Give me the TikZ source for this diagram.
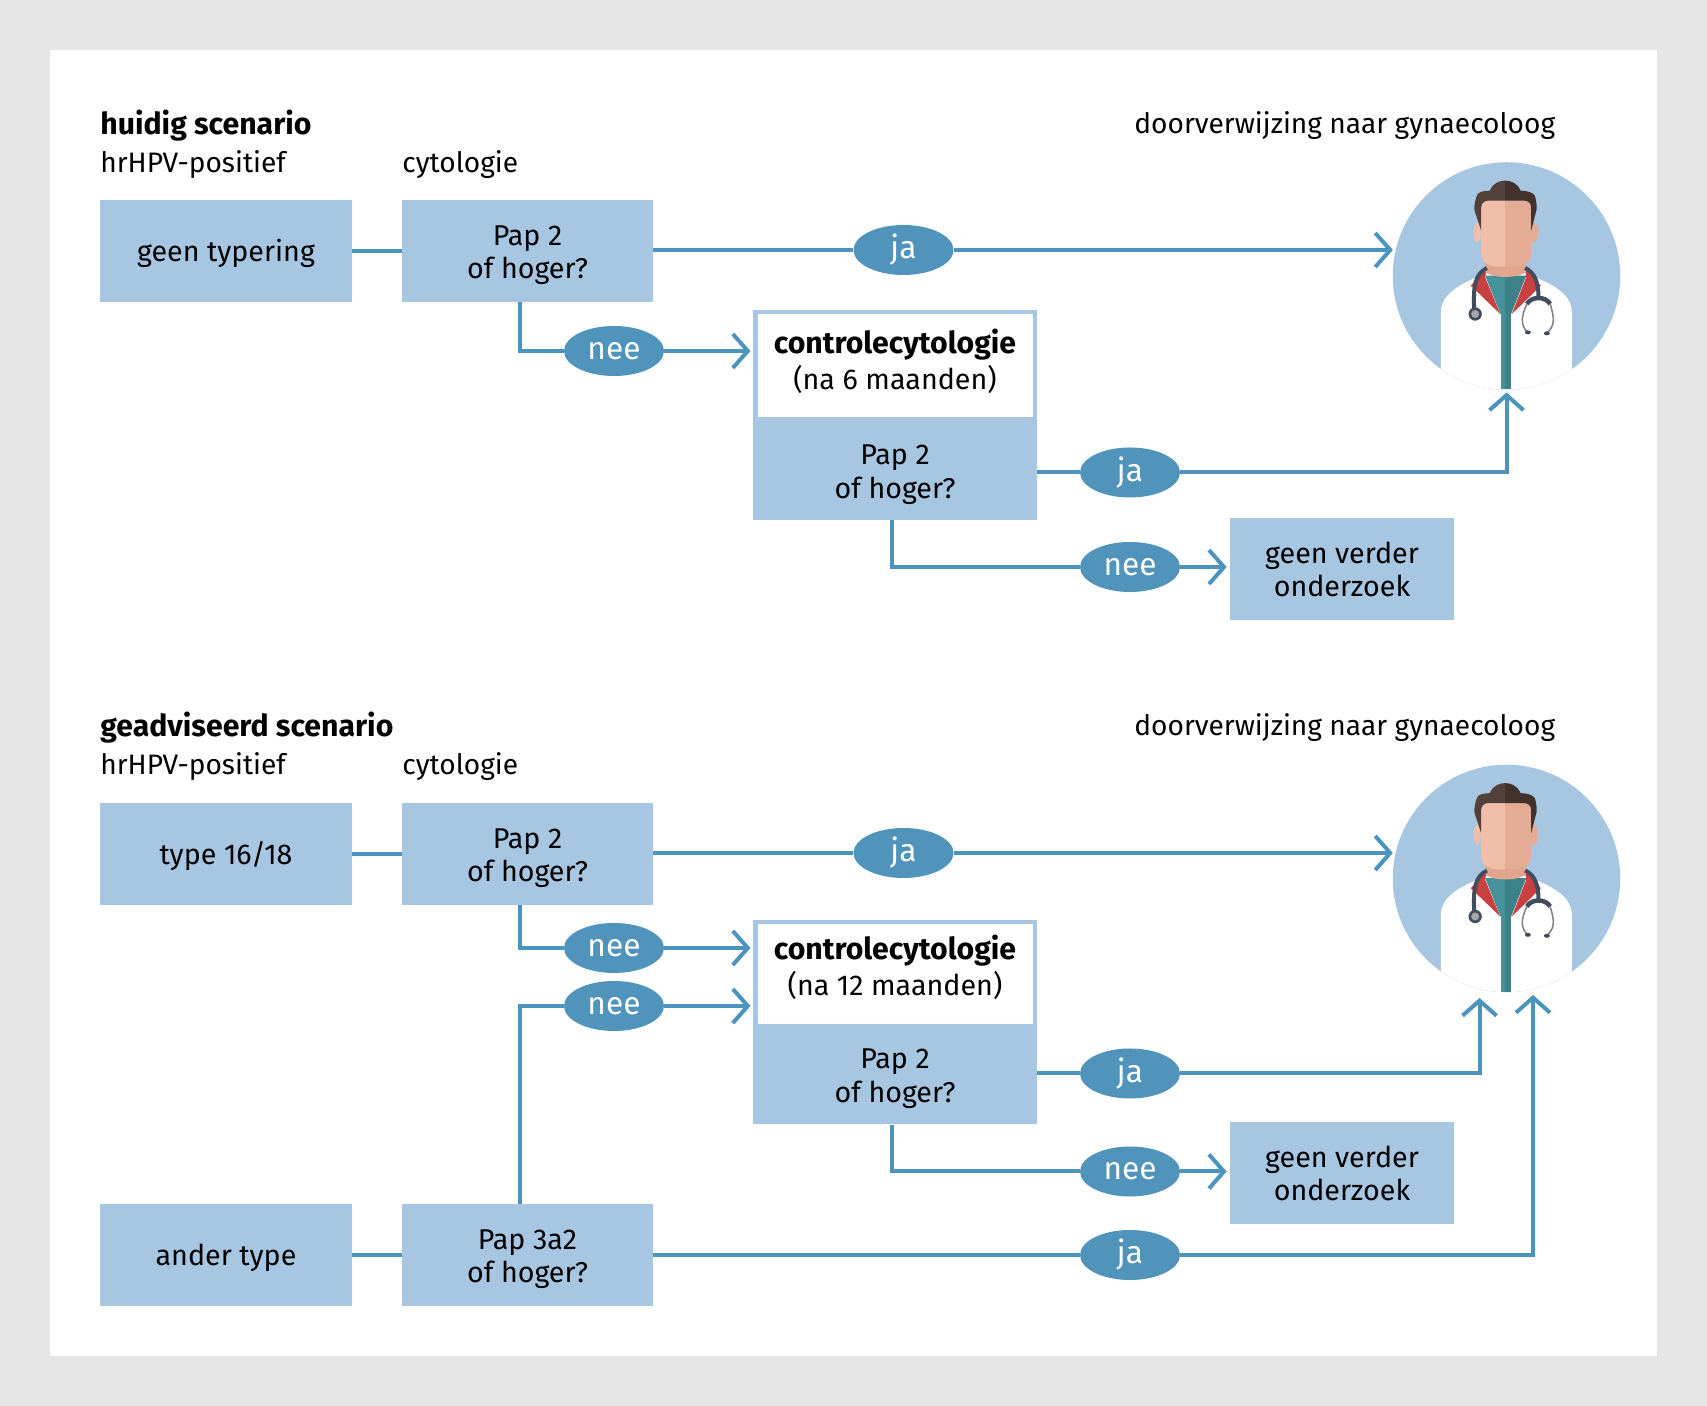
\documentclass[tikz,border=0pt]{standalone}
\usepackage{fontspec}
\setmainfont{Fira Sans}
\usetikzlibrary{shapes.geometric}
\usetikzlibrary{arrows.meta}

\definecolor{boxblue}{HTML}{A6C6E2}
\definecolor{lineblue}{HTML}{4B94BE}
\definecolor{ovalblue}{HTML}{5093BB}
\definecolor{pagegray}{HTML}{E6E6E6}
\definecolor{skinlight}{HTML}{F1BEAA}
\definecolor{skindark}{HTML}{E4AC95}
\definecolor{neckskin}{HTML}{E2A68E}
\definecolor{hairlight}{HTML}{54403A}
\definecolor{hairdark}{HTML}{43312B}
\definecolor{shirtlight}{HTML}{46929B}
\definecolor{shirtdark}{HTML}{3D8189}
\definecolor{collarred}{HTML}{C8403F}
\definecolor{tubegray}{HTML}{414C5C}

\tikzset{
    label/.style = {anchor=west, inner sep=0pt, font=\fontsize{16}{19}\selectfont},
    titlelabel/.style = {label, font=\fontsize{17.2}{19}\selectfont\bfseries},
    box/.style = {fill=boxblue, align=center, inner sep=0pt, minimum height=2.04cm, text height=35pt, text depth=3.3pt, font=\fontsize{16.3}{19}\selectfont},
    oneline/.style = {text height=15.2pt},
    headbox/.style = {draw=boxblue, line width=0.09cm, fill=white, align=center, inner sep=0pt, font=\fontsize{16.3}{19}\selectfont},
    oval/.style = {ellipse, fill=ovalblue, text=white, inner sep=0pt, minimum width=2cm, minimum height=1cm, font=\fontsize{18}{20}\selectfont},
    flow/.style = {draw=lineblue, line width=0.08cm},
    toarrow/.style = {flow, arrows = {-Straight Barb[length=0.3cm, width=0.68cm]}},
    doctor/.pic = {
        \begin{scope}[x=0.00667cm, y=-0.00667cm]
            \begin{scope}
                \clip (0, 0) circle [radius=341];
                % coat
                \fill[white] (-197, 345) -- (-197, 110) .. controls (-197, 50) and (-130, 20) .. (-60, -8)
                    -- (56, -8) .. controls (130, 20) and (196, 50) .. (196, 110) -- (196, 345) -- cycle;
            \end{scope}
            % shirt
            \fill[shirtlight] (-64, -1) -- (-4, -1) -- (-4, 114) -- (-18, 114) -- cycle;
            \fill[shirtdark] (-4, -1) -- (59, -1) -- (14, 114) -- (-4, 114) -- cycle;
            \fill[shirtlight] (-18, 100) rectangle (-4, 339);
            \fill[shirtdark] (-4, 100) rectangle (14, 339);
            % collar
            \fill[collarred] (-59, -21) -- (-107, 29) -- (-19, 114) -- (-64, 4) -- cycle;
            \fill[collarred] (56, -21) -- (103, 29) -- (16, 114) -- (59, 4) -- cycle;
            % neck
            \fill[neckskin] (-64, -60) -- (-64, -12) .. controls (-40, 8) and (32, 8) .. (59, -12) -- (59, -60) -- cycle;
            % ears
            \fill[skinlight] (-88, -130) ellipse [x radius=11, y radius=30];
            \fill[skindark] (84, -130) ellipse [x radius=11, y radius=30];
            % face
            \fill[skinlight] (-4, -226) -- (-60, -226) .. controls (-72, -226) and (-76, -215) .. (-76, -205)
                -- (-76, -65) .. controls (-76, -40) and (-50, -28) .. (-30, -28) -- (-4, -28) -- cycle;
            \fill[skindark] (-4, -226) -- (58, -226) .. controls (70, -226) and (74, -215) .. (74, -205)
                -- (74, -65) .. controls (74, -40) and (46, -28) .. (26, -28) -- (-4, -28) -- cycle;
            % hair
            \fill[hairlight] (-4, -286) .. controls (-20, -286) and (-40, -280) .. (-50, -256)
                .. controls (-70, -256) and (-89, -250) .. (-89, -241) .. controls (-98, -215) and (-98, -200) .. (-94, -191)
                -- (-76, -136) -- (-76, -205) .. controls (-76, -220) and (-65, -226) .. (-55, -226) -- (-4, -226) -- cycle;
            \fill[hairdark] (-4, -286) .. controls (12, -286) and (32, -280) .. (42, -256)
                .. controls (62, -256) and (80, -250) .. (85, -241) .. controls (92, -215) and (92, -200) .. (88, -191)
                -- (74, -136) -- (74, -205) .. controls (74, -220) and (63, -226) .. (53, -226) -- (-4, -226) -- cycle;
            % stethoscope
            \draw[tubegray, line width=0.08cm] (-59, -24) .. controls (-95, -5) and (-100, 30) .. (-97, 100);
            \fill[tubegray] (-94, 114) circle [radius=20];
            \fill[gray!70] (-94, 114) circle [radius=12];
            \draw[tubegray, line width=0.08cm] (56, -24) .. controls (85, -10) and (96, 20) .. (96, 64);
            \draw[tubegray, line width=0.09cm] (61, 84) .. controls (75, 60) and (117, 60) .. (131, 84);
            \draw[gray, line width=0.03cm] (131, 84) .. controls (145, 130) and (145, 150) .. (120, 172);
            \draw[gray, line width=0.03cm] (61, 84) .. controls (40, 130) and (45, 150) .. (64, 170);
            \fill[tubegray] (64, 169) ellipse [x radius=9, y radius=6];
            \fill[tubegray] (121, 172) ellipse [x radius=9, y radius=6];
        \end{scope}
    }
}

\begin{document}
\begin{tikzpicture}
    \useasboundingbox (0, 0) rectangle (34.14, 28.12);
    \fill[pagegray] (0, 0) rectangle (34.14, 28.12);
    \fill[white] (1, 1) rectangle (33.14, 27.12);

    % huidig scenario
    \node[titlelabel] (title1) at (2, 25.6) {huidig scenario};
    \node[label] (hpv1) at (2, 24.82) {hrHPV-positief};
    \node[label] (cyto1) at (8.04, 24.82) {cytologie};
    \node[label] (refer1) at (22.68, 25.6) {doorverwijzing naar gynaecoloog};

    \node[box, oneline, minimum width=5.04cm] (type1) at (4.52, 23.1) {geen typering};
    \node[box, minimum width=5.02cm] (pap1) at (10.55, 23.1) {Pap 2\\of hoger?};
    \node[headbox, text depth=7pt, minimum width=5.59cm, minimum height=2.14cm] (ctrl1) at (17.9, 20.805) {\textbf{\fontsize{17.2}{19}\selectfont controlecytologie}\\[1.5pt](na 6 maanden)};
    \node[box, text height=37pt, minimum width=5.68cm, minimum height=2.06cm] (pap2) at (17.9, 18.75) {Pap 2\\of hoger?};
    \node[box, minimum width=4.48cm, minimum height=2.03cm] (stop1) at (26.84, 16.74) {geen verder\\onderzoek};

    \node[circle, fill=boxblue, inner sep=0pt, minimum size=4.55cm] (doc1) at (30.13, 22.6) {};
    \pic at (doc1) {doctor};

    \node[oval] (ja1) at (18.07, 23.12) {ja};
    \node[oval] (nee1) at (12.28, 21.1) {nee};
    \node[oval] (ja2) at (22.6, 18.67) {ja};
    \node[oval] (nee2) at (22.6, 16.78) {nee};

    \coordinate (bend1) at (10.4, 21.1);
    \coordinate (bend2) at (17.84, 16.78);
    \coordinate (tip1) at (30.13, 20.27);
    \draw[flow] (type1) -- (pap1);
    \draw[flow] (pap1.east |- ja1) -- (ja1);
    \draw[toarrow, shorten >=-0.01cm] (ja1) -- (doc1.west |- ja1);
    \draw[flow] (pap1.south -| bend1) -- (bend1) -- (nee1);
    \draw[toarrow, shorten >=0.05cm] (nee1) -- (ctrl1.west |- nee1);
    \draw[flow] (pap2.east |- ja2) -- (ja2);
    \draw[toarrow] (ja2) -| (tip1);
    \draw[flow] (pap2.south -| bend2) -- (bend2) -- (nee2);
    \draw[toarrow, shorten >=0.06cm] (nee2) -- (stop1.west |- nee2);

    % geadviseerd scenario
    \node[titlelabel] (title2) at (2, 13.56) {geadviseerd scenario};
    \node[label] (hpv2) at (2, 12.78) {hrHPV-positief};
    \node[label] (cyto2) at (8.04, 12.78) {cytologie};
    \node[label] (refer2) at (22.68, 13.56) {doorverwijzing naar gynaecoloog};

    \node[box, oneline, minimum width=5.04cm] (type2) at (4.52, 11.04) {type 16/18};
    \node[box, minimum width=5.02cm] (pap3) at (10.55, 11.04) {Pap 2\\of hoger?};
    \node[headbox, text depth=11pt, minimum width=5.59cm, minimum height=2.09cm] (ctrl2) at (17.9, 8.63) {\textbf{\fontsize{17.2}{19}\selectfont controlecytologie}\\[1.5pt](na 12 maanden)};
    \node[box, minimum width=5.68cm, minimum height=2cm] (pap4) at (17.9, 6.63) {Pap 2\\of hoger?};
    \node[box, minimum width=4.48cm, minimum height=2.03cm] (stop2) at (26.84, 4.66) {geen verder\\onderzoek};
    \node[box, oneline, minimum width=5.04cm] (type3) at (4.52, 3.02) {ander type};
    \node[box, minimum width=5.02cm] (pap5) at (10.55, 3.02) {Pap 3a2\\of hoger?};

    \node[circle, fill=boxblue, inner sep=0pt, minimum size=4.55cm] (doc2) at (30.13, 10.55) {};
    \pic at (doc2) {doctor};

    \node[oval] (ja3) at (18.07, 11.06) {ja};
    \node[oval] (nee3) at (12.28, 9.16) {nee};
    \node[oval] (nee4) at (12.28, 8) {nee};
    \node[oval] (ja4) at (22.6, 6.65) {ja};
    \node[oval] (nee5) at (22.6, 4.69) {nee};
    \node[oval] (ja5) at (22.6, 3.02) {ja};

    \coordinate (bend3) at (10.4, 9.16);
    \coordinate (bend4) at (10.4, 8);
    \coordinate (bend5) at (17.84, 4.69);
    \coordinate (tip2) at (29.59, 8.16);
    \coordinate (tip3) at (30.66, 8.22);
    \draw[flow] (type2) -- (pap3);
    \draw[flow] (pap3.east |- ja3) -- (ja3);
    \draw[toarrow, shorten >=-0.01cm] (ja3) -- (doc2.west |- ja3);
    \draw[flow] (pap3.south -| bend3) -- (bend3) -- (nee3);
    \draw[toarrow, shorten >=0.05cm] (nee3) -- (ctrl2.west |- nee3);
    \draw[flow] (pap5.north -| bend4) -- (bend4) -- (nee4);
    \draw[toarrow, shorten >=0.05cm] (nee4) -- (ctrl2.west |- nee4);
    \draw[flow] (pap4.east |- ja4) -- (ja4);
    \draw[toarrow] (ja4) -| (tip2);
    \draw[flow] (pap4.south -| bend5) -- (bend5) -- (nee5);
    \draw[toarrow, shorten >=0.06cm] (nee5) -- (stop2.west |- nee5);
    \draw[flow] (type3) -- (pap5);
    \draw[flow] (pap5) -- (ja5);
    \draw[toarrow] (ja5) -| (tip3);
\end{tikzpicture}
\end{document}
